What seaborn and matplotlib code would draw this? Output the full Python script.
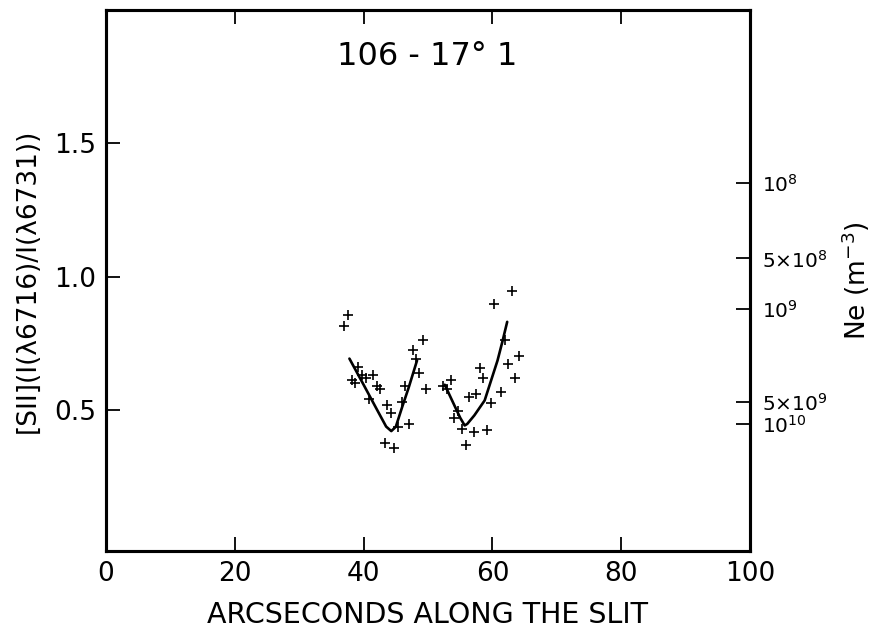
import numpy as np
import pandas as pd
import seaborn as sns
import matplotlib
matplotlib.use('Agg')
import matplotlib.pyplot as plt

# измеренные точки (угл. сек вдоль щели, отношение линий)
x_left = [37.6, 36.9, 39.2, 39.7, 40.3, 41.4, 38.2, 38.6, 42.1, 42.6, 40.9, 43.7,
          44.2, 45.9, 46.5, 47.0, 45.4, 43.3, 44.8, 47.6, 48.2, 49.2, 48.6, 49.7]
y_left = [0.855, 0.813, 0.660, 0.629, 0.620, 0.629, 0.613, 0.600, 0.589, 0.579, 0.539, 0.519,
          0.488, 0.529, 0.589, 0.447, 0.435, 0.376, 0.356, 0.723, 0.692, 0.763, 0.639, 0.579]
x_right = [63.05, 60.3, 61.97, 64.2, 62.5, 58.0, 58.5, 63.5, 52.4, 53.5, 53.0,
           57.5, 56.3, 61.3, 59.8, 54.7, 54.1, 55.3, 57.1, 59.2, 55.9]
y_right = [0.946, 0.896, 0.763, 0.702, 0.670, 0.658, 0.619, 0.620, 0.589, 0.610, 0.579,
           0.558, 0.548, 0.567, 0.526, 0.497, 0.469, 0.426, 0.416, 0.425, 0.366]

# сглаженные кривые
fit1_x = [37.8, 40.0, 42.0, 43.5, 44.3, 45.0, 46.0, 47.0, 48.3]
fit1_y = [0.692, 0.594, 0.504, 0.437, 0.420, 0.436, 0.511, 0.583, 0.685]
fit2_x = [52.6, 55.0, 55.7, 56.1, 57.2, 58.8, 59.8, 60.8, 61.6, 62.3]
fit2_y = [0.594, 0.470, 0.441, 0.447, 0.479, 0.535, 0.610, 0.685, 0.760, 0.830]

# шкала плотности справа
ne_pos = [1.35, 1.068, 0.88, 0.53, 0.447]
ne_labels = ['$10^8$', r'$5{\times}10^8$', '$10^9$', r'$5{\times}10^9$', '$10^{10}$']

x_ticks = [0, 20, 40, 60, 80, 100]
y_ticks = [0.5, 1.0, 1.5]

sns.set_style('ticks')
plt.rcParams['font.family'] = ['DejaVu Sans']
plt.rcParams['mathtext.fontset'] = 'dejavusans'
plt.rcParams['text.color'] = 'black'
plt.rcParams['axes.labelcolor'] = 'black'
plt.rcParams['xtick.color'] = 'black'
plt.rcParams['ytick.color'] = 'black'
plt.rcParams['axes.edgecolor'] = 'black'

fig = plt.figure(figsize=(8.79, 6.28), dpi=100)
ax = fig.add_axes([0.1206, 0.1226, 0.7326, 0.8614])

pts = pd.DataFrame({'x': x_left + x_right, 'y': y_left + y_right})
sns.scatterplot(data=pts, x='x', y='y', marker='+', s=45, color='black',
                linewidth=1.2, ax=ax, legend=False)
for fx, fy in [(fit1_x, fit1_y), (fit2_x, fit2_y)]:
    sns.lineplot(x=fx, y=fy, sort=False, color='black', linewidth=1.9, ax=ax)

ax.set_xlim(0, 100)
ax.set_ylim(-0.03, 2.0)
ax.set_xticks(x_ticks)
ax.set_yticks(y_ticks)
ax.set_yticklabels(['0.5', '1.0', '1.5'])
ax.tick_params(direction='in', length=10, width=1.3, labelsize=19, pad=7,
               top=True, right=False)
for s in ax.spines.values():
    s.set_linewidth(2.2)
    s.set_visible(True)
ax.set_xlabel('ARCSECONDS ALONG THE SLIT', fontsize=20.5, labelpad=10)
ax.set_ylabel('[SII](I(λ6716)/I(λ6731))', fontsize=19, labelpad=10)
ax.text(0.498, 0.915, '106 - 17° 1', transform=ax.transAxes,
        ha='center', va='center', fontsize=23)

ax2 = ax.twinx()
ax2.set_ylim(ax.get_ylim())
ax2.set_yticks(ne_pos)
ax2.set_yticklabels(ne_labels)
ax2.tick_params(direction='in', length=10, width=1.3, labelsize=14.5, pad=9)
ax2.set_ylabel('Ne (m$^{-3}$)', fontsize=19, labelpad=8)
for s in ax2.spines.values():
    s.set_linewidth(2.2)

fig.savefig('out.png', dpi=100)
